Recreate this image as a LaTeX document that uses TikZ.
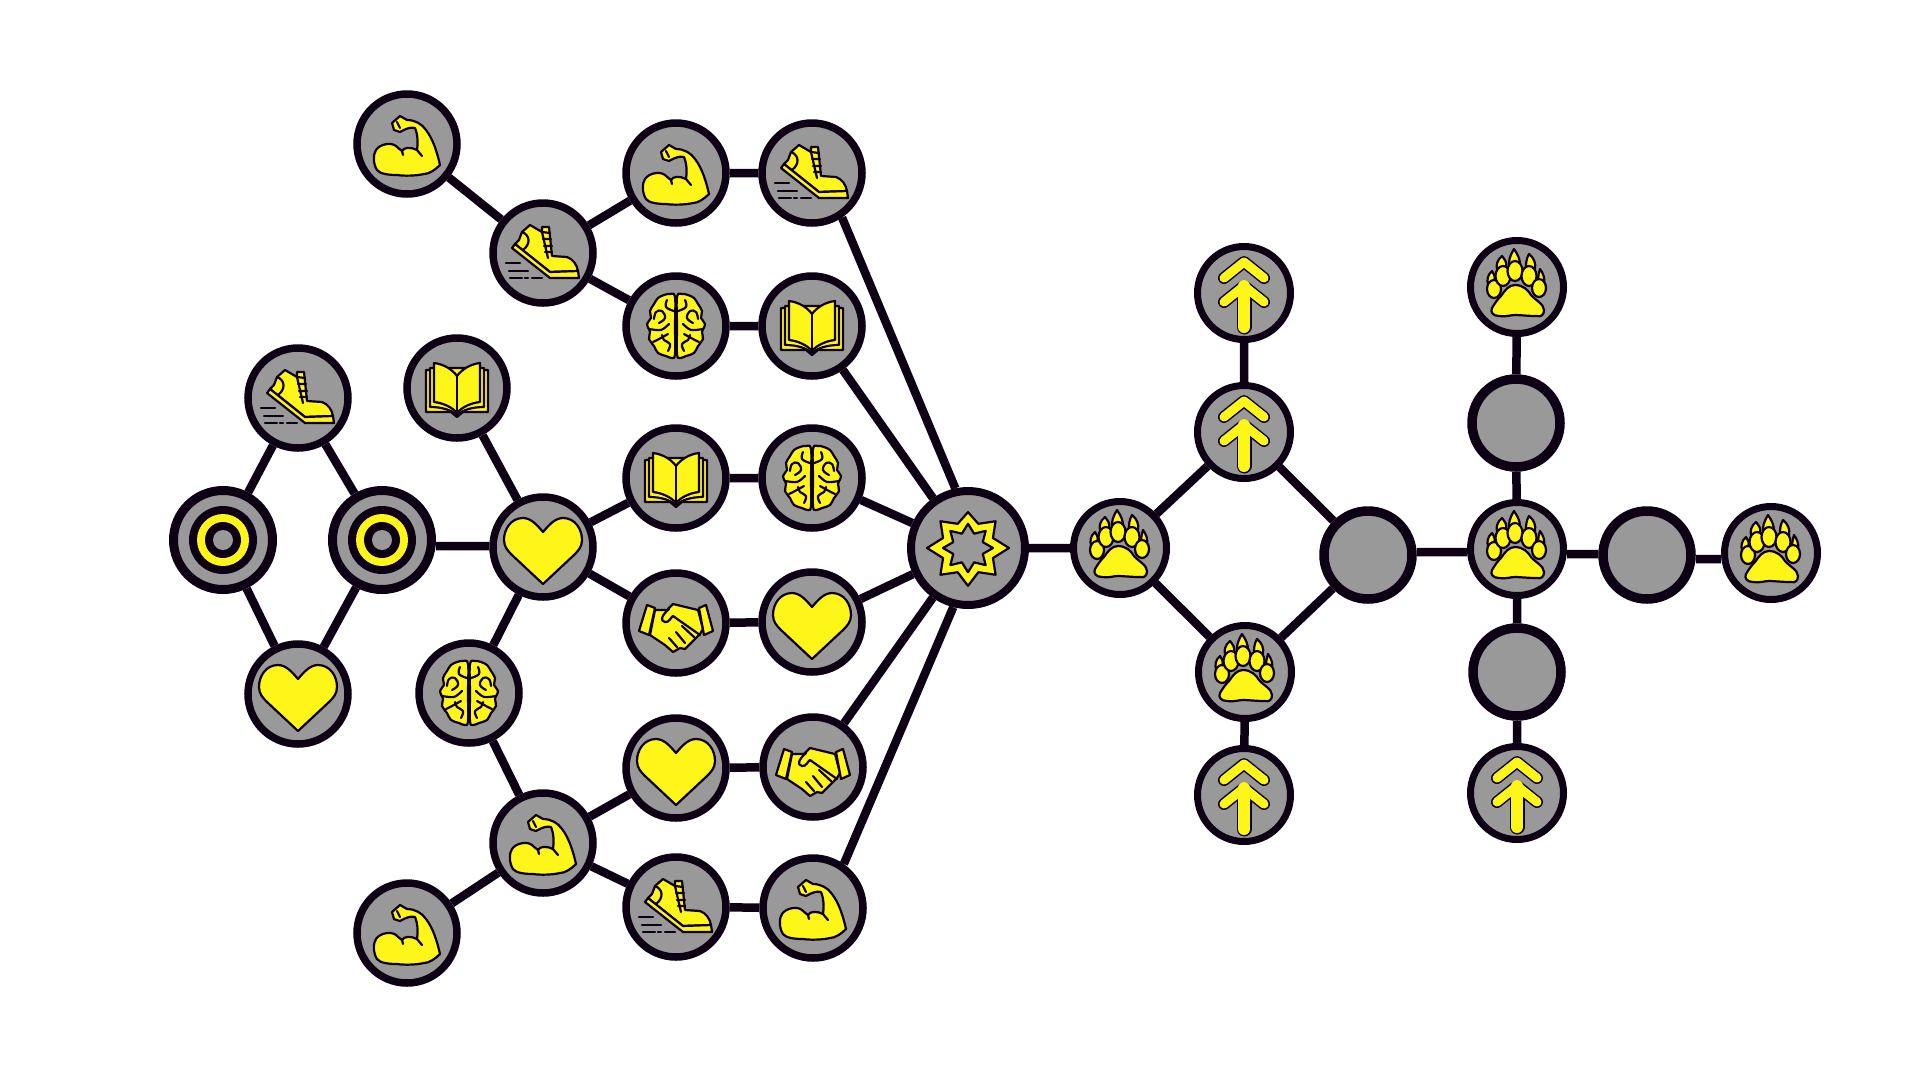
\documentclass[tikz,border=0pt]{standalone}
\definecolor{ink}{HTML}{0E0014}
\definecolor{grayfill}{HTML}{999999}
\definecolor{gold}{HTML}{FFF619}
\newcommand{\brainhalfshape}{%
    \path[ic] plot[smooth cycle,tension=.6] coordinates {(-1,-29) (-6,-32) (-12,-31) (-18,-28) (-22,-22) (-26,-15) (-25,-8) (-29,-2) (-26,6) (-27,13) (-22,20) (-18,27) (-10,30) (-4,32) (-1,28) (-1,0)};
    \draw[icl] plot[smooth,tension=.7] coordinates {(-22,-7) (-20,-14) (-14,-15) (-11,-8) (-17,-3)};
    \draw[icl] plot[smooth,tension=.7] coordinates {(-9,-26) (-10,-19) (-2,-15)};
    \draw[icl] plot[smooth,tension=.5] coordinates {(-27,3) (-15,4) (-7,-2)};
    \draw[icl] plot[smooth,tension=.7] coordinates {(-14,9) (-12,14) (-6,18) (-8,25)};
    \draw[icl] plot[smooth,tension=.7] coordinates {(-23,16) (-17,13) (-8,8)};
}
\tikzset{
  x=1pt,y=-1pt,
  nd/.style={circle,draw=ink,fill=grayfill,inner sep=0pt,line width=7.5pt,minimum size=100pt},
  ndsmall/.style={nd,line width=7pt,minimum size=93pt},
  ndstar/.style={nd,line width=8pt,minimum size=114pt},
  ndring/.style={nd,line width=9pt,minimum size=99pt},
  ndblank/.style={nd,line width=9.5pt,minimum size=88pt},
  link/.style={draw=ink,line width=8.5pt},
  ic/.style={draw=ink,fill=gold,line width=2.2pt,line join=round},
  icl/.style={draw=ink,line width=2.2pt,line cap=round,line join=round},
  iconring/.pic={
    \fill[ink] (0,0) circle[radius=34];
    \fill[gold] (0,0) circle[radius=26];
    \fill[ink] (0,0) circle[radius=18];
    \fill[grayfill] (0,0) circle[radius=10];
  },
  iconheart/.pic={
    \path[ic] (0,-15) .. controls (-6,-22) and (-12,-29) .. (-20,-29)
      .. controls (-32,-29) and (-39,-18) .. (-39,-7)
      .. controls (-39,0) and (-35,4) .. (-31,8) -- (0,37) -- (31,8)
      .. controls (35,4) and (39,0) .. (39,-7)
      .. controls (39,-18) and (32,-29) .. (20,-29)
      .. controls (12,-29) and (6,-22) .. (0,-15) -- cycle;
  },
  iconshoe/.pic={
    \path[ic] (-28,-9) -- (-24,-13) -- (-21,-21) -- (-13,-28) -- (-1,-21) -- (-1,-26) -- (6,-26)
      -- (9,3) -- (24,4) .. controls (30,6) and (34,12) .. (35,18) -- (7,19) -- cycle;
    \path[ic] (-31,-5) -- (-28,-9) -- (7,19) -- (35,18) -- (36,25) -- (7,25) -- cycle;
    \draw[icl] (-21,-21) .. controls (-13,-18) and (-12,-9) .. (-20,-3);
    \draw[icl] (-1,-21) -- (7,-20) (0,-14) -- (8,-14) (1,-7) -- (9,-7) (2,-1) -- (9,-1);
    \draw[icl] (-1,-21) -- (5,5);
    \draw[icl] (-37,10) -- (-23,10) (-34,18) -- (-15,18) (-33,25) -- (-21,25) (-18,25) -- (-15,25) (-11,25) -- (-1,25);
  },
  iconmuscle/.pic={
    \path[ic] (-15,-21) -- (-7,-28) -- (0,-24) .. controls (8,-24) and (15,-20) .. (19,-14)
      .. controls (26,-5) and (30,8) .. (33,21)
      .. controls (28,26) and (22,30) .. (17,30)
      .. controls (8,32) and (-3,32) .. (-10,31)
      .. controls (-18,31) and (-27,30) .. (-30,26)
      .. controls (-34,20) and (-34,10) .. (-31,6)
      .. controls (-27,0) and (-16,-2) .. (-11,2)
      .. controls (-8,5) and (-6,6) .. (-5,7)
      .. controls (-3,3) and (4,3) .. (10,6)
      .. controls (11,0) and (11,-9) .. (8,-16)
      .. controls (4,-17) and (0,-16) .. (-7,-12) -- (-13,-14) -- cycle;
    \draw[icl] (-10,-22) -- (-7,-16) (10,6) -- (15,12) (-5,7) -- (-4,11);
  },
  iconbook/.pic={
    \path[ic] (-31,-18) -- (-31,24) -- (-6,24) -- (0,29) -- (6,24) -- (31,24) -- (31,-18) -- cycle;
    \path[ic] (-27,-20) -- (-27,19) .. controls (-15,19) and (-6,22) .. (0,27)
      .. controls (6,22) and (15,19) .. (27,19) -- (27,-20) -- cycle;
    \path[ic] (-23,-25) .. controls (-14,-24) and (-5,-19) .. (0,-12)
      .. controls (5,-19) and (14,-24) .. (23,-25) -- (23,14)
      .. controls (14,15) and (5,19) .. (0,25)
      .. controls (-5,19) and (-14,15) .. (-23,14) -- cycle;
    \draw[icl] (0,-12) -- (0,25);
  },
  iconbrain/.pic={
    \brainhalfshape
    \begin{scope}[xscale=-1]\brainhalfshape\end{scope}
  },
  iconhand/.pic={
    \path[ic] (-21,-13) -- (-9,-13) -- (-3,-19) -- (22,-13) -- (27,6) -- (24,11) -- (9,26) -- (4,25) -- (-3,29) -- (-11,22) -- (-26,12) -- cycle;
    \path[ic] (-29,-18) -- (-21,-15) -- (-27,12) -- (-37,8) -- cycle;
    \path[ic] (23,-15) -- (30,-18) -- (37,8) -- (28,12) -- cycle;
    \draw[icl] (-7,-14) .. controls (-15,-7) and (-16,-2) .. (-11,-1) .. controls (-7,0) and (-5,-6) .. (-3,-7) -- (24,12);
    \draw[icl] (-7,15) -- (1,24) (0,9) -- (9,20) (6,3) -- (18,14);
  },
  iconpaw/.pic={
    \path[ic] (-3,-38) .. controls (-8,-30) and (-8,-26) .. (-8,-22) -- (3,-22) .. controls (3,-28) and (1,-32) .. (-3,-38) -- cycle;
    \path[ic] (-15,-31) .. controls (-20,-27) and (-21,-22) .. (-20,-18) -- (-11,-20) .. controls (-10,-25) and (-12,-27) .. (-15,-31) -- cycle;
    \path[ic] (12,-33) .. controls (9,-28) and (9,-23) .. (9,-20) -- (18,-18) .. controls (19,-24) and (17,-29) .. (12,-33) -- cycle;
    \path[ic] (-25,-16) .. controls (-30,-12) and (-30,-6) .. (-29,-3) -- (-22,-8) .. controls (-22,-10) and (-23,-13) .. (-25,-16) -- cycle;
    \path[ic] (23,-18) .. controls (26,-14) and (28,-9) .. (27,-4) -- (21,-8) .. controls (21,-11) and (22,-14) .. (23,-18) -- cycle;
    \path[ic] (-23,2) ellipse[x radius=7,y radius=9];
    \path[ic] (-14,-11) ellipse[x radius=7.5,y radius=10];
    \path[ic] (-2,-16) ellipse[x radius=7.5,y radius=10];
    \path[ic] (12,-11) ellipse[x radius=7.5,y radius=10];
    \path[ic] (22,1) ellipse[x radius=7,y radius=9];
    \path[ic] (-2,-2) .. controls (6,-2) and (11,3) .. (14,8)
      .. controls (18,13) and (27,17) .. (27,23)
      .. controls (27,28) and (24,30) .. (20,29)
      .. controls (10,29) and (4,28) .. (-2,28)
      .. controls (-7,28) and (-10,30) .. (-18,29)
      .. controls (-24,29) and (-27,25) .. (-25,21)
      .. controls (-22,16) and (-20,13) .. (-16,9)
      .. controls (-12,3) and (-8,-2) .. (-2,-2) -- cycle;
  },
  iconarrow/.pic={
    \draw[ink,line width=12pt,line cap=round,line join=round] (-20,-15) -- (0,-31) -- (20,-15);
    \draw[gold,line width=9pt,line cap=round,line join=round] (-20,-15) -- (0,-31) -- (20,-15);
    \draw[ink,line width=12pt,line cap=round,line join=round] (-20,9) -- (0,-7) -- (20,9);
    \draw[ink,line width=15pt,line cap=round] (0,0) -- (0,34);
    \draw[gold,line width=9pt,line cap=round,line join=round] (-20,9) -- (0,-7) -- (20,9);
    \draw[gold,line width=12pt,line cap=round] (0,-7) -- (0,34);
  },
  iconstar/.pic={
    \path[ic,even odd rule,yscale=.97]
      (0:41) -- (22.5:27) -- (45:39) -- (67.5:27) -- (90:39) -- (112.5:27) -- (135:39) -- (157.5:27)
      -- (180:41) -- (202.5:27) -- (225:39) -- (247.5:27) -- (270:37) -- (292.5:27) -- (315:39) -- (337.5:27) -- cycle
      (0:25) -- (22.5:16) -- (45:25) -- (67.5:16) -- (90:25) -- (112.5:16) -- (135:25) -- (157.5:16)
      -- (180:25) -- (202.5:16) -- (225:25) -- (247.5:16) -- (270:25) -- (292.5:16) -- (315:25) -- (337.5:16) -- cycle;
  },
}
\begin{document}
\begin{tikzpicture}
\useasboundingbox (0,0) rectangle (1920,1080);
\fill[white] (0,0) rectangle (1920,1080);
% left target block
\node[ndring] (ta) at (223,540) {};
\node[ndring] (tb) at (382,540) {};
\node[nd] (sa) at (298,398) {};
\node[nd] (ha) at (298,694) {};
\node[nd] (hb) at (543,547) {};
\node[nd] (ba) at (457,388) {};
\node[nd] (ra) at (469,693) {};
% upper branch
\node[nd] (ma) at (407,144) {};
\node[nd] (sb) at (543,253) {};
\node[nd] (mb) at (676,173) {};
\node[nd] (sc) at (812,173) {};
\node[nd] (rb) at (676,326) {};
\node[nd] (bb) at (812,326) {};
\node[nd] (bc) at (676,478) {};
\node[nd] (rc) at (812,478) {};
\node[nd] (ka) at (676,623) {};
\node[nd] (hc) at (812,622) {};
% lower branch
\node[nd] (hd) at (676,768) {};
\node[nd] (kb) at (813,767) {};
\node[nd] (mc) at (543,843) {};
\node[nd] (md) at (407,933) {};
\node[nd] (sd) at (676,907) {};
\node[nd] (me) at (813,908) {};
% hub and right
\node[ndstar] (star) at (968,548) {};
\node[ndsmall] (pa) at (1120,548) {};
\node[ndsmall] (ua) at (1244,293) {};
\node[ndsmall] (ub) at (1244,432) {};
\node[ndsmall] (pb) at (1245,672) {};
\node[ndsmall] (uc) at (1244,795) {};
\node[ndblank] (ga) at (1368,555) {};
\node[ndsmall] (pc) at (1517,549) {};
\node[ndsmall] (pd) at (1517,287) {};
\node[ndblank] (gb) at (1516,423) {};
\node[ndblank] (gc) at (1517,672) {};
\node[ndsmall] (ud) at (1517,793) {};
\node[ndblank] (gd) at (1647,555) {};
\node[ndsmall] (pe) at (1771,553) {};
% connectors
\path[link] (ta) -- (sa) (sa) -- (tb) (ta) -- (ha) (ha) -- (tb)
  ([yshift=-6pt]tb.east) -- ([yshift=1pt]hb.west)
  (ba) -- (hb) (hb) -- (ra) (ra) -- (mc) (mc) -- (md) (mc) -- (hd) (mc) -- (sd)
  (hd) -- (kb) (sd) -- (me) (me.55) -- (star.-104) (kb) -- (star) (hc) -- (star) (ka) -- (hc)
  (hb) -- (ka) (hb) -- (bc) (bc) -- (rc) (rc) -- (star) (bb) -- (star) (rb) -- (bb)
  (sc.-56) -- (star.102) (mb) -- (sc) (sb) -- (mb) (sb) -- (rb) (ma) -- (sb) (star) -- (pa)
  (pa) -- (ub) (pa) -- (pb) (ub) -- (ua) (ub) -- (ga) (pb) -- (ga) (pb) -- (uc)
  ([yshift=3pt]ga.east) -- ([yshift=-3pt]pc.west)
  (pc) -- (gb) (gb) -- (pd) (pc) -- (gc) (gc) -- (ud)
  ([yshift=-5pt]pc.east) -- ([yshift=1pt]gd.west)
  ([yshift=-4pt]gd.east) -- ([yshift=-6pt]pe.west);
% icons
\pic at (ta) {iconring};
\pic at (tb) {iconring};
\pic at (sa) {iconshoe};
\pic at (ha) {iconheart};
\pic at (hb) {iconheart};
\pic at (ba) {iconbook};
\pic at (ra) {iconbrain};
\pic at (ma) {iconmuscle};
\pic at (sb) {iconshoe};
\pic at (mb) {iconmuscle};
\pic at (sc) {iconshoe};
\pic at (rb) {iconbrain};
\pic at (bb) {iconbook};
\pic at (bc) {iconbook};
\pic at (rc) {iconbrain};
\pic at (ka) {iconhand};
\pic at (hc) {iconheart};
\pic at (hd) {iconheart};
\pic at (kb) {iconhand};
\pic at (mc) {iconmuscle};
\pic at (md) {iconmuscle};
\pic at (sd) {iconshoe};
\pic at (me) {iconmuscle};
\pic at (star) {iconstar};
\pic at (pa) {iconpaw};
\pic at (ua) {iconarrow};
\pic at (ub) {iconarrow};
\pic at (pb) {iconpaw};
\pic at (uc) {iconarrow};
\pic at (pc) {iconpaw};
\pic at (pd) {iconpaw};
\pic at (ud) {iconarrow};
\pic at (pe) {iconpaw};
\end{tikzpicture}
\end{document}
